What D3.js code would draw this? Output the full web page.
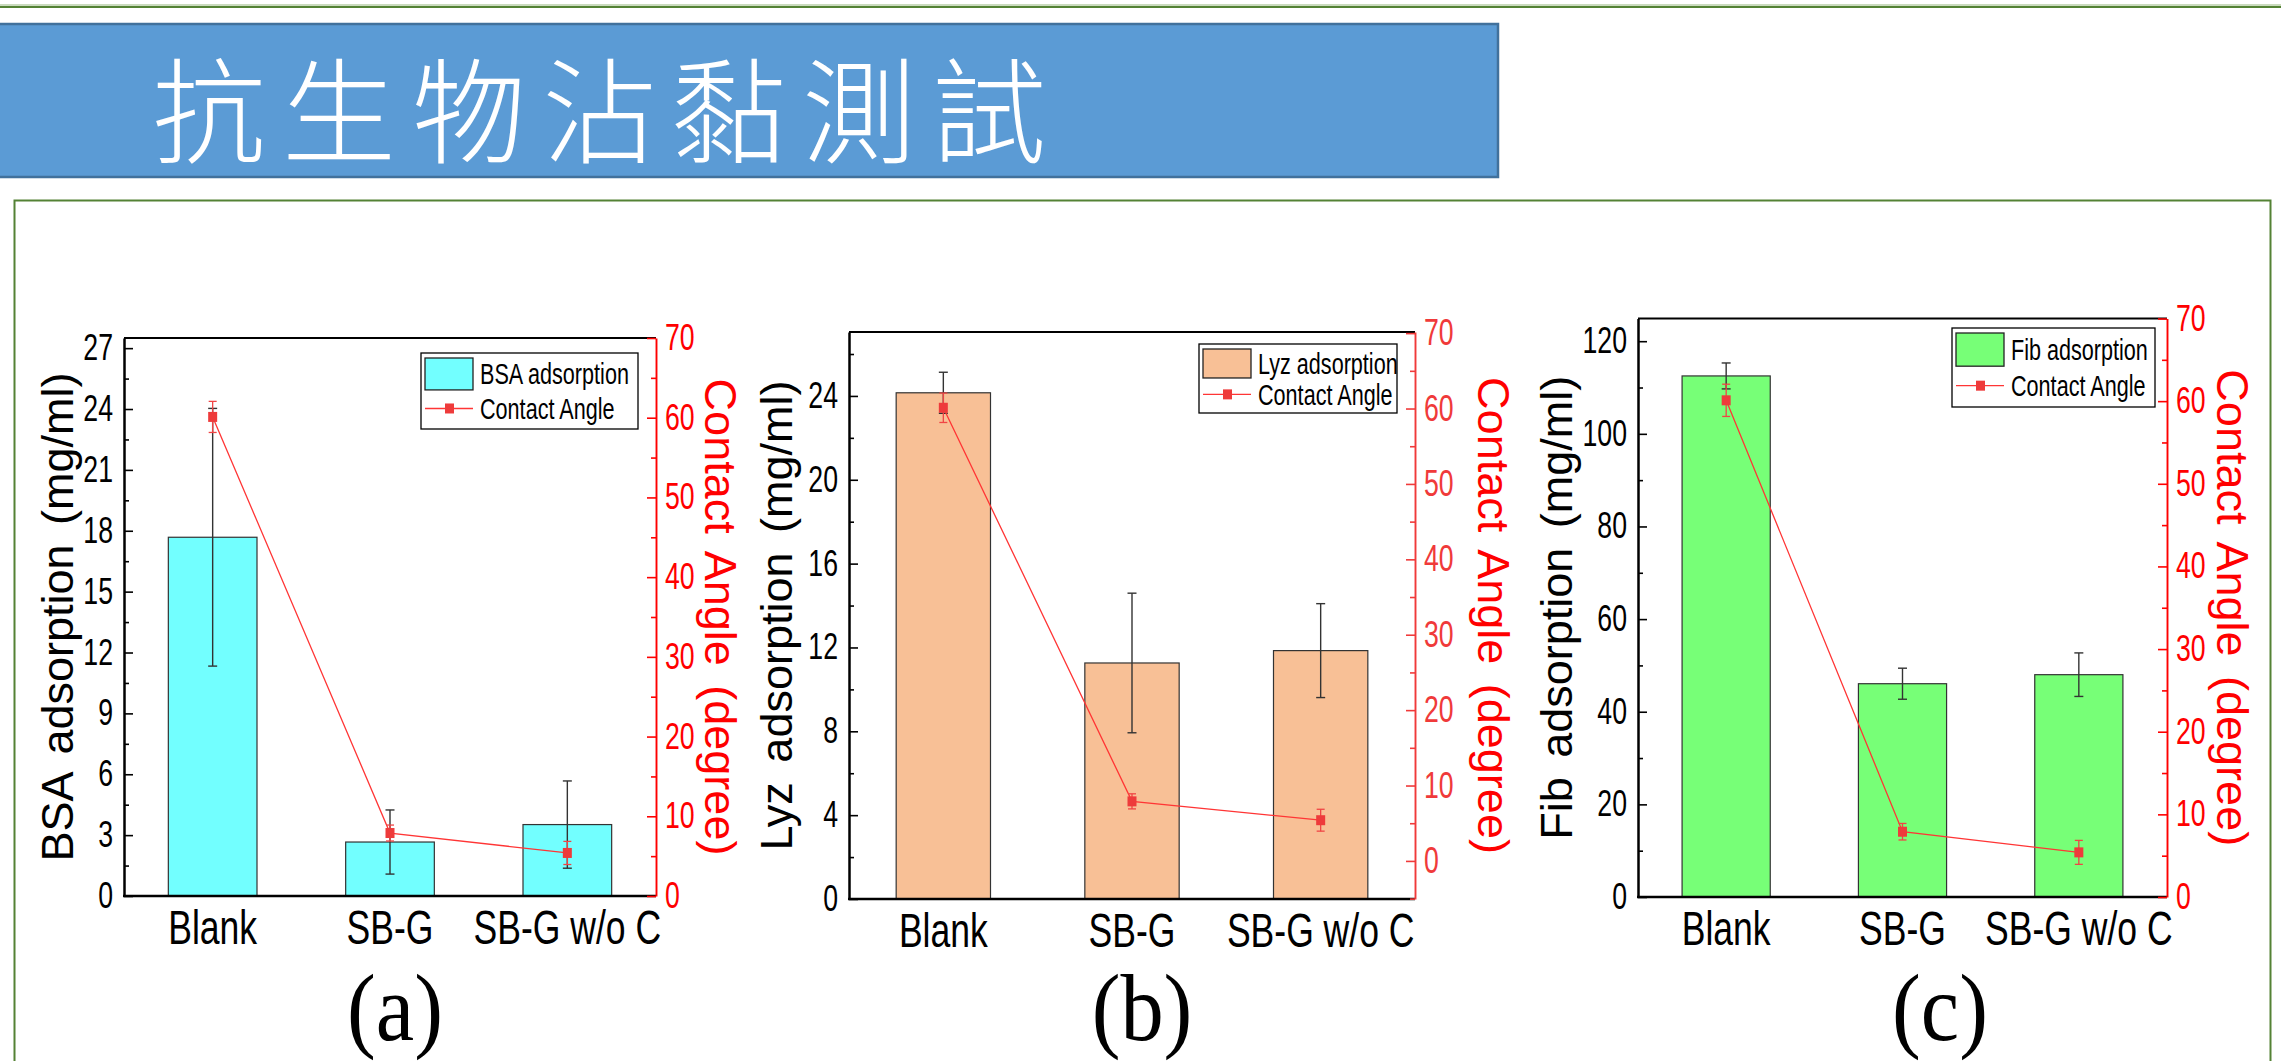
<!DOCTYPE html>
<html>
<head>
<meta charset="utf-8">
<script src="https://cdn.jsdelivr.net/npm/d3@7"></script>
<style>
  body { margin: 0; background: #fff; }
  svg { display: block; }
</style>
</head>
<body>
<div id="chart"></div>
<script>
// Data
const categories = ["Blank", "SB-G", "SB-G w/o C"];

const bsaValues = [17.68, 2.66, 3.52];
const bsaErrors = [6.35, 1.58, 2.15];
const lyzValues = [24.15, 11.26, 11.85];
const lyzErrors = [0.98, 3.33, 2.24];
const fibValues = [112.5, 46.05, 48.0];
const fibErrors = [2.8, 3.35, 4.7];

// Contact angle, same for all panels (right axis)
const angleValues = [60.1, 7.9, 5.4];
const angleErrors = [1.95, 1.0, 1.45];

const bsaTicks = [0, 3, 6, 9, 12, 15, 18, 21, 24, 27];
const lyzTicks = [0, 4, 8, 12, 16, 20, 24];
const fibTicks = [0, 20, 40, 60, 80, 100, 120];
const angleTicks = [0, 10, 20, 30, 40, 50, 60, 70];

const titleText = "抗生物沾黏測試";
const panelLabels = ["(a)", "(b)", "(c)"];

const W = 2281, H = 1061;
const sans = "'Liberation Sans', Arial, sans-serif";

// squeeze Liberation Sans to look like Arial Narrow
function condense(sel, f) {
    sel.each(function() {
        var len = this.getComputedTextLength();
        d3.select(this).attr("textLength", len * f).attr("lengthAdjust", "spacingAndGlyphs");
    });
}

var svg = d3.select("#chart").append("svg")
    .attr("width", W)
    .attr("height", H);

svg.append("rect").attr("width", W).attr("height", H).attr("fill", "#fff");

// Slide decoration: top rule, blue title bar, green frame
svg.append("line")
    .attr("x1", 0).attr("x2", W).attr("y1", 5).attr("y2", 5)
    .attr("stroke", "#b9cfa8").attr("stroke-width", 1.5);
svg.append("line")
    .attr("x1", 0).attr("x2", W).attr("y1", 7).attr("y2", 7)
    .attr("stroke", "#548235").attr("stroke-width", 2);

svg.append("rect")
    .attr("x", -5).attr("y", 24).attr("width", 1503).attr("height", 153)
    .attr("fill", "#5b9bd5").attr("stroke", "#41719c").attr("stroke-width", 2.5);

svg.append("text")
    .attr("x", 152).attr("y", 154)
    .attr("fill", "#fff")
    .attr("font-family", "'Noto Sans CJK TC', 'Noto Sans CJK SC', sans-serif")
    .attr("font-weight", 300)
    .attr("font-size", 114)
    .attr("letter-spacing", 16)
    .text(titleText);

svg.append("rect")
    .attr("x", 14.5).attr("y", 200.5).attr("width", 2256).attr("height", 900)
    .attr("fill", "none").attr("stroke", "#548235").attr("stroke-width", 2);

// Panel layout (pixel positions only)
const panels = [
    {values: bsaValues, errors: bsaErrors, ticks: bsaTicks, minorStep: 1.5, yMax: 27.5,
     y2Domain: [0, 70], fill: "#72ffff", red: "#ff0000",
     legendText: "BSA adsorption", yTitle: "BSA adsorption (mg/ml)",
     left: 124, right: 656, top: 338, bottom: 896,
     legend: {x: 421, y: 353, w: 217, h: 76},
     yTitleX: 57, y2TitleX: 720, labelX: 395},
    {values: lyzValues, errors: lyzErrors, ticks: lyzTicks, minorStep: 2, yMax: 27.05,
     y2Domain: [-5.05, 70.15], fill: "#f8c096", red: "#f03a3a",
     legendText: "Lyz adsorption", yTitle: "Lyz adsorption (mg/ml)",
     left: 849, right: 1415, top: 332, bottom: 899,
     legend: {x: 1199, y: 344, w: 198, h: 69},
     yTitleX: 776, y2TitleX: 1493, labelX: 1142},
    {values: fibValues, errors: fibErrors, ticks: fibTicks, minorStep: 10, yMax: 124.9,
     y2Domain: [0, 70], fill: "#77ff77", red: "#ff0000",
     legendText: "Fib adsorption", yTitle: "Fib adsorption (mg/ml)",
     left: 1638, right: 2167, top: 318.5, bottom: 897,
     legend: {x: 1952, y: 328, w: 203, h: 79},
     yTitleX: 1556, y2TitleX: 2232, labelX: 1940}
];

panels.forEach((p, k) => drawPanel(p, k));

function drawPanel(p, k) {
    var g = svg.append("g");

    var x = d3.scaleBand()
        .domain(categories)
        .range([p.left, p.right])
        .paddingInner(0.5)
        .paddingOuter(0.25);
    var y = d3.scaleLinear().domain([0, p.yMax]).range([p.bottom, p.top]);
    var y2 = d3.scaleLinear().domain(p.y2Domain).range([p.bottom, p.top]);
    var cx = d => x(d) + x.bandwidth() / 2;

    // Bars
    g.selectAll(".bar")
        .data(categories)
        .enter()
            .append("rect")
            .attr("x", d => x(d))
            .attr("y", (d, i) => y(p.values[i]))
            .attr("width", x.bandwidth())
            .attr("height", (d, i) => y(0) - y(p.values[i]))
            .attr("fill", p.fill)
            .attr("stroke", "#333")
            .attr("stroke-width", 1.2);

    // Bar error bars
    categories.forEach((c, i) => {
        var lo = y(p.values[i] - p.errors[i]), hi = y(p.values[i] + p.errors[i]);
        g.append("line").attr("x1", cx(c)).attr("x2", cx(c)).attr("y1", lo).attr("y2", hi)
            .attr("stroke", "#333").attr("stroke-width", 1.4);
        [lo, hi].forEach(v => g.append("line")
            .attr("x1", cx(c) - 4.5).attr("x2", cx(c) + 4.5).attr("y1", v).attr("y2", v)
            .attr("stroke", "#333").attr("stroke-width", 1.4));
    });

    // Contact angle line
    var line = d3.line().x((d, i) => cx(categories[i])).y(d => y2(d));
    g.append("path")
        .datum(angleValues)
        .attr("d", line)
        .attr("fill", "none")
        .attr("stroke", "#ff3535")
        .attr("stroke-width", 1.3);

    categories.forEach((c, i) => {
        var lo = y2(angleValues[i] - angleErrors[i]), hi = y2(angleValues[i] + angleErrors[i]);
        g.append("line").attr("x1", cx(c)).attr("x2", cx(c)).attr("y1", lo).attr("y2", hi)
            .attr("stroke", "#f04545").attr("stroke-width", 1.3);
        [lo, hi].forEach(v => g.append("line")
            .attr("x1", cx(c) - 4).attr("x2", cx(c) + 4).attr("y1", v).attr("y2", v)
            .attr("stroke", "#f04545").attr("stroke-width", 1.3));
    });

    g.selectAll(".marker")
        .data(angleValues)
        .enter()
            .append("rect")
            .attr("x", (d, i) => cx(categories[i]) - 4.5)
            .attr("y", d => y2(d) - 5)
            .attr("width", 9)
            .attr("height", 10)
            .attr("fill", "#ee3b3b");

    // Top and bottom frame lines
    g.append("line").attr("x1", p.left).attr("x2", p.right).attr("y1", p.top).attr("y2", p.top)
        .attr("stroke", "#000").attr("stroke-width", 2.2);
    g.append("line").attr("x1", p.left - 1).attr("x2", p.right).attr("y1", p.bottom).attr("y2", p.bottom)
        .attr("stroke", "#000").attr("stroke-width", 2.6);

    // Left axis
    var minor = d3.range(0, p.yMax, p.minorStep).filter(v => p.ticks.indexOf(v) < 0);
    var yAxis = g.append("g")
        .attr("transform", "translate(" + p.left + ",0)")
        .call(d3.axisLeft(y).tickValues(p.ticks).tickSize(-9).tickSizeOuter(0).tickPadding(11));
    yAxis.select(".domain").attr("stroke-width", 2.5);
    yAxis.selectAll(".tick line").attr("stroke-width", 1.6);
    yAxis.selectAll("text").attr("font-family", sans).attr("font-size", 36).attr("fill", "#000")
        .call(condense, 0.74);
    var yMinor = g.append("g")
        .attr("transform", "translate(" + p.left + ",0)")
        .call(d3.axisLeft(y).tickValues(minor).tickSize(-5).tickFormat(""));
    yMinor.select(".domain").remove();
    yMinor.selectAll(".tick line").attr("stroke-width", 1.6);

    // Right axis
    var minor2 = d3.range(Math.ceil(p.y2Domain[0] / 5) * 5, p.y2Domain[1], 5).filter(v => angleTicks.indexOf(v) < 0);
    var y2Axis = g.append("g")
        .attr("transform", "translate(" + p.right + ",0)")
        .call(d3.axisRight(y2).tickValues(angleTicks).tickSize(-9).tickSizeOuter(0).tickPadding(9));
    y2Axis.select(".domain").attr("stroke", p.red).attr("stroke-width", 1.9);
    y2Axis.selectAll(".tick line").attr("stroke", p.red).attr("stroke-width", 1.6);
    y2Axis.selectAll("text").attr("font-family", sans).attr("font-size", 36).attr("fill", p.red)
        .call(condense, 0.74);
    var y2Minor = g.append("g")
        .attr("transform", "translate(" + p.right + ",0)")
        .call(d3.axisRight(y2).tickValues(minor2).tickSize(-5).tickFormat(""));
    y2Minor.select(".domain").remove();
    y2Minor.selectAll(".tick line").attr("stroke", p.red).attr("stroke-width", 1.6);

    // Category axis
    var xAxis = g.append("g")
        .attr("transform", "translate(0," + p.bottom + ")")
        .call(d3.axisBottom(x).tickSize(0).tickPadding(14));
    xAxis.select(".domain").remove();
    xAxis.selectAll("text").attr("font-family", sans).attr("font-size", 48).attr("fill", "#000")
        .call(condense, 0.74);

    // Axis titles
    var midY = (p.top + p.bottom) / 2;
    g.append("text")
        .attr("transform", "translate(" + p.yTitleX + "," + midY + ") rotate(-90)")
        .attr("text-anchor", "middle")
        .attr("dominant-baseline", "central")
        .attr("font-family", sans)
        .attr("font-size", 45)
        .attr("word-spacing", 7)
        .attr("fill", "#000")
        .text(p.yTitle);
    g.append("text")
        .attr("transform", "translate(" + p.y2TitleX + "," + midY + ") rotate(90)")
        .attr("text-anchor", "middle")
        .attr("dominant-baseline", "central")
        .attr("font-family", sans)
        .attr("font-size", 45)
        .attr("word-spacing", 7)
        .attr("fill", "#ff0000")
        .text("Contact Angle (degree)");

    // Legend
    var L = p.legend;
    var lg = g.append("g").attr("transform", "translate(" + L.x + "," + L.y + ")");
    lg.append("rect").attr("width", L.w).attr("height", L.h)
        .attr("fill", "#fff").attr("stroke", "#000").attr("stroke-width", 1.3);
    lg.append("rect").attr("x", 4).attr("y", 5).attr("width", 48).attr("height", L.h * 0.42)
        .attr("fill", p.fill).attr("stroke", "#222").attr("stroke-width", 1.3);
    var row2 = L.h * 0.73;
    lg.append("line").attr("x1", 4).attr("x2", 52).attr("y1", row2).attr("y2", row2)
        .attr("stroke", "#ff3535").attr("stroke-width", 1.3);
    lg.append("rect").attr("x", 24).attr("y", row2 - 5).attr("width", 9).attr("height", 10)
        .attr("fill", "#ee3b3b");
    lg.append("text").attr("x", 59).attr("y", 5 + L.h * 0.21)
        .attr("dominant-baseline", "central")
        .attr("font-family", sans).attr("font-size", 30).attr("fill", "#000")
        .text(p.legendText)
        .call(condense, 0.72);
    lg.append("text").attr("x", 59).attr("y", row2)
        .attr("dominant-baseline", "central")
        .attr("font-family", sans).attr("font-size", 30).attr("fill", "#000")
        .text("Contact Angle")
        .call(condense, 0.72);

    // Panel label
    g.append("text")
        .attr("transform", "translate(" + p.labelX + ",1040) scale(0.9,1)")
        .attr("text-anchor", "middle")
        .attr("font-family", "'Liberation Serif', 'Times New Roman', serif")
        .attr("font-size", 96)
        .attr("fill", "#000")
        .text(panelLabels[k]);
}
</script>
</body>
</html>
